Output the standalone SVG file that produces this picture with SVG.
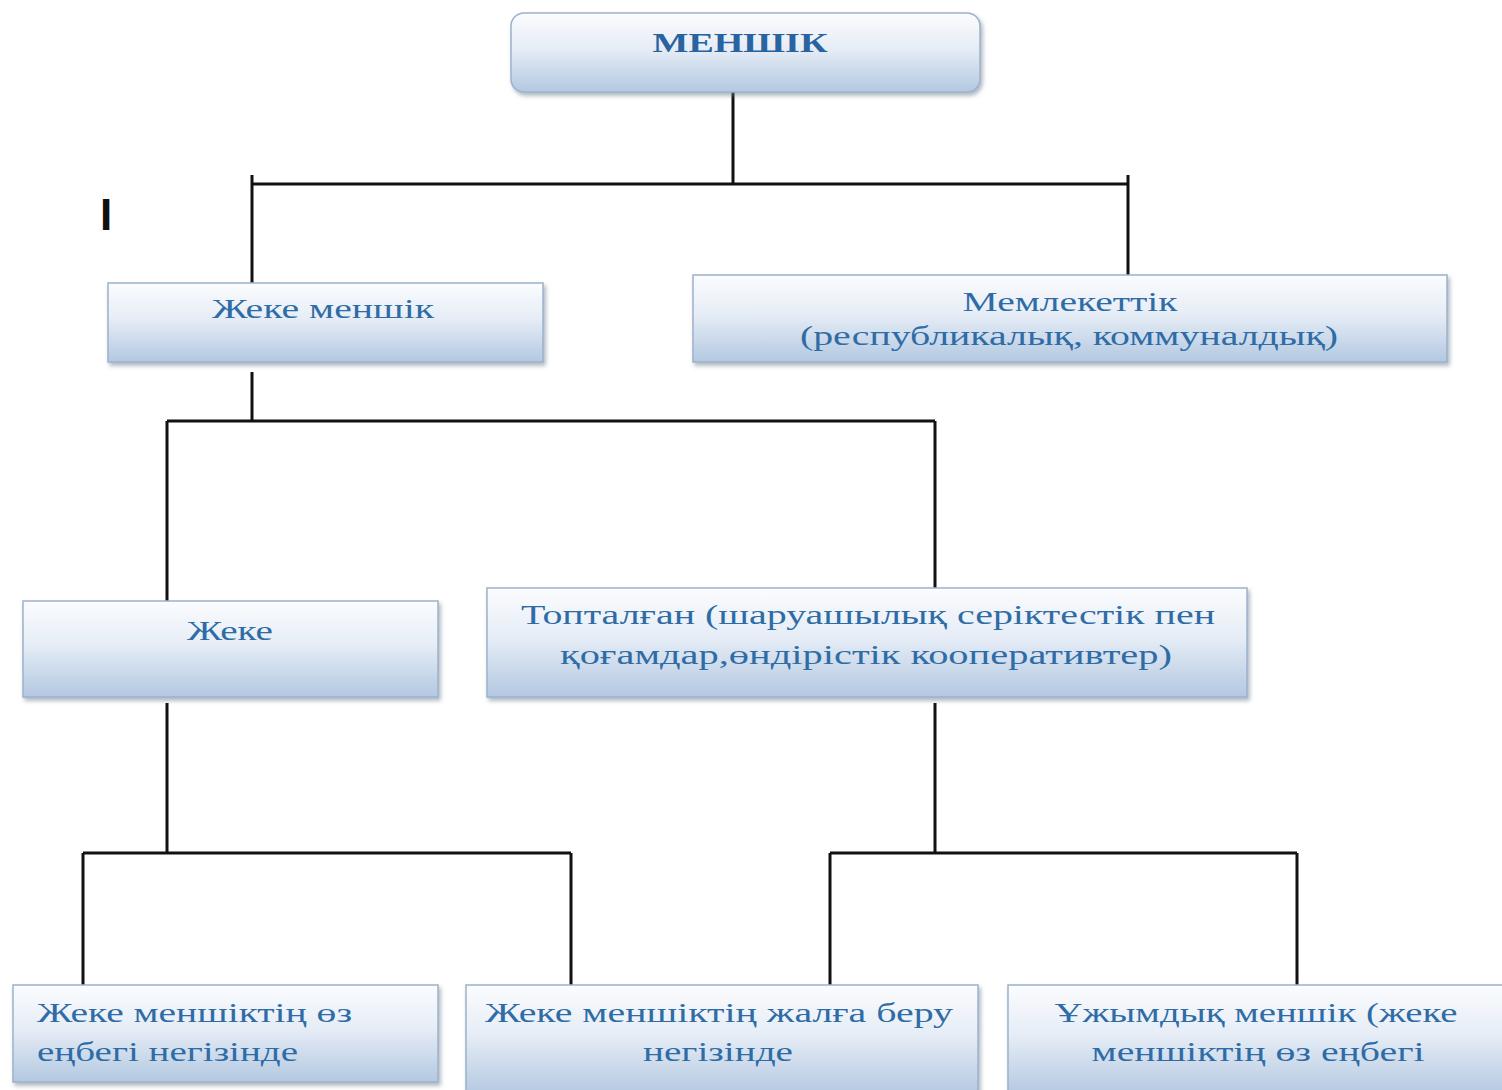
<svg xmlns="http://www.w3.org/2000/svg" width="1502" height="1090" viewBox="0 0 1502 1090">
<defs>
<linearGradient id="g" x1="0" y1="0" x2="0" y2="1">
<stop offset="0" stop-color="#fbfcfe"/>
<stop offset="0.45" stop-color="#e6edf6"/>
<stop offset="1" stop-color="#b3c8e1"/>
</linearGradient>
<filter id="sh" x="-5%" y="-10%" width="110%" height="130%">
<feDropShadow dx="2" dy="3" stdDeviation="2" flood-color="#6b7a8c" flood-opacity="0.55"/>
</filter>
</defs>
<style>
.box{fill:url(#g);stroke:#9db2cc;stroke-width:1.5;filter:url(#sh)}
.t{font-family:"Liberation Serif","DejaVu Serif",serif;font-size:28px;fill:#2f6ca6}
.c{text-anchor:middle}
.b{font-weight:bold;fill:#2a64a0}
.ln{stroke:#111;stroke-width:3;fill:none}
</style>
<rect width="1502" height="1090" fill="#ffffff"/>
<g id="connectors">
<path class="ln" d="M733 92V184M252 184H1128M252 175V283M1128 175V275"/>
<path class="ln" d="M252 372V421M167 421H935M167 421V601M935 421V588"/>
<path class="ln" d="M167 703V853M83 853H571M83 853V985M571 853V985"/>
<path class="ln" d="M935 703V853M830 853H1297M830 853V985M1297 853V985"/>
</g>
<text x="100" y="230" font-family="Liberation Sans, Arial, sans-serif" font-weight="bold" font-size="44" fill="#111">I</text>
<g id="n-menshik">
<rect class="box" x="511" y="13" width="469" height="79" rx="13"/>
<text class="t b c" x="740" y="52" textLength="175" lengthAdjust="spacingAndGlyphs">МЕНШІК</text>
</g>
<g id="n-zheke-menshik">
<rect class="box" x="108" y="283" width="435" height="79"/>
<text class="t c" x="323" y="318" textLength="222" lengthAdjust="spacingAndGlyphs">Жеке меншік</text>
</g>
<g id="n-memlekettik">
<rect class="box" x="693" y="275" width="754" height="87"/>
<text class="t c" x="1070" y="311" textLength="215" lengthAdjust="spacingAndGlyphs">Мемлекеттік</text>
<text class="t c" x="1069" y="345" textLength="538" lengthAdjust="spacingAndGlyphs">(республикалық, коммуналдық)</text>
</g>
<g id="n-zheke">
<rect class="box" x="23" y="601" width="415" height="96"/>
<text class="t c" x="230" y="640" textLength="86" lengthAdjust="spacingAndGlyphs">Жеке</text>
</g>
<g id="n-toptalgan">
<rect class="box" x="487" y="588" width="760" height="109"/>
<text class="t c" x="868" y="624" textLength="694" lengthAdjust="spacingAndGlyphs">Топталған (шаруашылық серіктестік пен</text>
<text class="t c" x="866" y="664" textLength="612" lengthAdjust="spacingAndGlyphs">қоғамдар,өндірістік кооперативтер)</text>
</g>
<g id="n-oz-enbegi">
<rect class="box" x="13" y="985" width="425" height="97"/>
<text class="t" x="37" y="1022" textLength="315" lengthAdjust="spacingAndGlyphs">Жеке меншіктің өз</text>
<text class="t" x="37" y="1061" textLength="261" lengthAdjust="spacingAndGlyphs">еңбегі негізінде</text>
</g>
<g id="n-zhalga">
<rect class="box" x="466" y="985" width="512" height="110"/>
<text class="t c" x="719" y="1022" textLength="468" lengthAdjust="spacingAndGlyphs">Жеке меншіктің  жалға беру</text>
<text class="t c" x="718" y="1061" textLength="150" lengthAdjust="spacingAndGlyphs">негізінде</text>
</g>
<g id="n-uzhymdyk">
<rect class="box" x="1008" y="985" width="500" height="110"/>
<text class="t c" x="1256" y="1022" textLength="403" lengthAdjust="spacingAndGlyphs">Ұжымдық меншік (жеке</text>
<text class="t c" x="1258" y="1061" textLength="333" lengthAdjust="spacingAndGlyphs">меншіктің өз еңбегі</text>
</g>
</svg>
